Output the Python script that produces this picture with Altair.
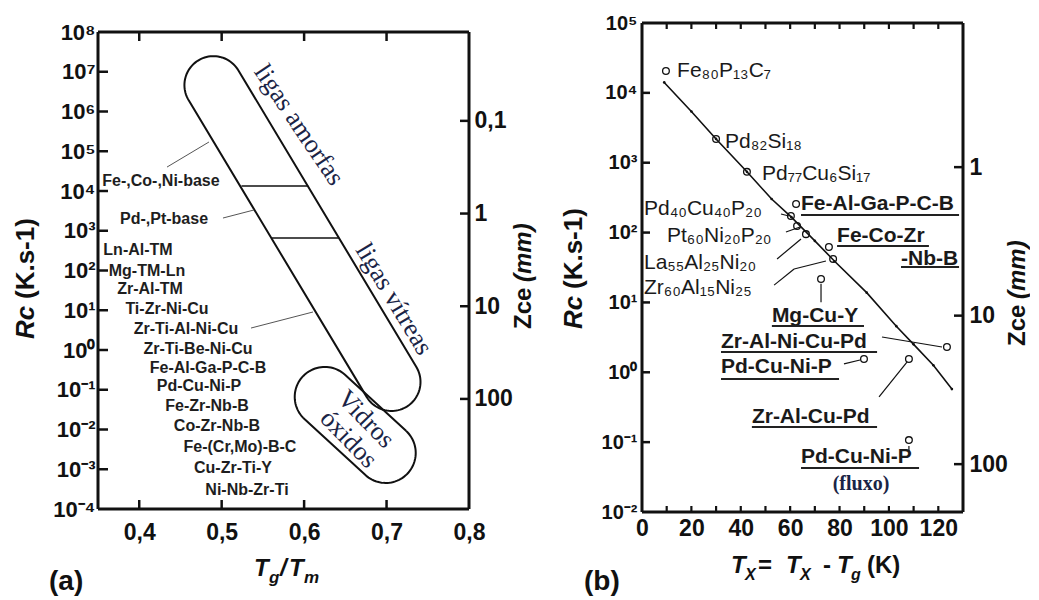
import math
import numpy as np
import pandas as pd
import altair as alt

FONT = "Liberation Sans"
SERIF = "Liberation Serif"
INK = "#111111"
NAVY = "#1a2446"

# ================= Panel (a) data =================
a_x_domain = [0.35, 0.80]
a_rc_domain = [1e-4, 1e8]
a_x_ticks = [0.4, 0.5, 0.6, 0.7, 0.8]
a_rc_ticks = [1e-4, 1e-3, 1e-2, 1e-1, 1e0, 1e1, 1e2, 1e3, 1e4, 1e5, 1e6, 1e7, 1e8]
a_rc_tick_labels = ["10⁻⁴", "10⁻³", "10⁻²", "10⁻¹", "10⁰", "10¹", "10²",
                    "10³", "10⁴", "10⁵", "10⁶", "10⁷", "10⁸"]
a_zce_domain = [0.011, 1540]
a_zce_ticks = [0.1, 1, 10, 100]
a_zce_tick_labels = ["0,1", "1", "10", "100"]

a_alloys = ["Fe-,Co-,Ni-base", "Pd-,Pt-base", "Ln-Al-TM", "Mg-TM-Ln", "Zr-Al-TM",
            "Ti-Zr-Ni-Cu", "Zr-Ti-Al-Ni-Cu", "Zr-Ti-Be-Ni-Cu", "Fe-Al-Ga-P-C-B",
            "Pd-Cu-Ni-P", "Fe-Zr-Nb-B", "Co-Zr-Nb-B", "Fe-(Cr,Mo)-B-C",
            "Cu-Zr-Ti-Y", "Ni-Nb-Zr-Ti"]
a_alloy_x = [0.4264, 0.4301, 0.3985, 0.4094, 0.4131, 0.4337, 0.4567, 0.4713,
             0.4834, 0.4725, 0.4822, 0.4943, 0.5222, 0.5137, 0.5307]
a_alloy_rc = [1.79e4, 1.98e3, 328, 97, 34.3, 10.7, 3.37, 1.06, 0.352, 0.124,
              0.039, 0.0122, 0.00363, 0.00107, 0.0003]

# region outlines (capsules): end-centre positions in data units
a_region_names = ["ligas", "vidros"]
a_region_x1 = [0.490, 0.625]
a_region_rc1 = [4.6e6, 0.066]
a_region_x2 = [0.706, 0.699]
a_region_rc2 = [0.157, 0.00257]

# dividers inside the glass-forming band
a_div_x1 = [0.524, 0.561]
a_div_x2 = [0.605, 0.642]
a_div_rc = [1.34e4, 658]

# leader lines
a_lead_x1 = [0.4337, 0.5016, 0.5356]
a_lead_rc1 = [4.0e4, 2.09e3, 3.57]
a_lead_x2 = [0.4846, 0.5392, 0.6108]
a_lead_rc2 = [1.71e5, 3.33e3, 9.04]

# region captions
a_cap_text = ["ligas amorfas", "ligas vítreas", "Vidros", "óxidos"]
a_cap_x = [0.594, 0.709, 0.675, 0.654]
a_cap_rc = [4.57e5, 19.1, 0.0182, 0.00575]
a_cap_angle = [56, 59, 46, 46]

# ================= Panel (b) data =================
b_x_domain = [0, 130]
b_rc_domain = [1e-2, 1e5]
b_x_label_ticks = [0, 20, 40, 60, 80, 100, 120]
b_x_minor_ticks = [10, 20, 30, 40, 50, 60, 70, 80, 90, 100, 110, 120]
b_rc_ticks = [1e-2, 1e-1, 1e0, 1e1, 1e2, 1e3, 1e4, 1e5]
b_rc_tick_labels = ["10⁻²", "10⁻¹", "10⁰", "10¹", "10²", "10³", "10⁴", "10⁵"]
b_zce_domain = [0.107, 210]
b_zce_ticks = [1, 10, 100]
b_zce_tick_labels = ["1", "10", "100"]

b_fit_x = [9, 20, 30, 42.5, 52.5, 60.5, 70, 78, 91, 103, 110, 118, 125.5]
b_fit_rc = [1.41e4, 5.4e3, 2.19e3, 741, 302, 166, 76, 38.9, 13.8, 4.57, 2.51, 1.26, 0.575]

b_pt_x = [9.7, 30.0, 42.5, 62.4, 60.3, 62.8, 66.4, 75.7, 77.4, 72.5, 123.5, 89.9, 108.1, 108.1]
b_pt_rc = [2.06e4, 2.18e3, 740, 256, 173, 124, 95, 62, 42, 21.6, 2.3, 1.55, 1.55, 0.107]

b_formula = ["Fe₈₀P₁₃C₇", "Pd₈₂Si₁₈", "Pd₇₇Cu₆Si₁₇", "Pd₄₀Cu₄₀P₂₀",
             "Pt₆₀Ni₂₀P₂₀", "La₅₅Al₂₅Ni₂₀", "Zr₆₀Al₁₅Ni₂₅"]
b_formula_x = [14.2, 33.6, 48.6, 0.8, 10.1, 0.8, 0.8]
b_formula_rc = [2.06e4, 1.98e3, 689, 217, 89.3, 36.6, 16.1]

b_system = ["Fe-Al-Ga-P-C-B", "Fe-Co-Zr", "-Nb-B", "Mg-Cu-Y", "Zr-Al-Ni-Cu-Pd",
            "Pd-Cu-Ni-P", "Zr-Al-Cu-Pd", "Pd-Cu-Ni-P"]
b_system_x = [64.4, 79.0, 104.9, 52.6, 32.0, 32.0, 44.5, 64.4]
b_system_rc = [256, 89.3, 41.9, 6.40, 2.72, 1.19, 0.229, 0.0612]
b_system_ul_rc = [179, 64.3, 32.1, 4.60, 1.95, 0.80, 0.165, 0.0427]
b_system_ul_x2 = [128.4, 116.2, 128.4, 89.9, 95.2, 79.8, 95.2, 112.2]

b_note = ["(fluxo)"]
b_note_x = [88.7]
b_note_rc = [0.0252]

b_lead_x1 = [56.3, 58.3, 54.7, 53.5, 61.6, 72.5, 97.2, 81.8, 96.0, 108.1]
b_lead_rc1 = [184.5, 101.9, 41.9, 17.7, 30.1, 18.5, 3.20, 1.32, 0.443, 0.088]
b_lead_x2 = [59.5, 64.0, 64.4, 61.6, 74.5, 72.5, 121.5, 88.3, 107.3, 108.1]
b_lead_rc2 = [172.6, 120.2, 80.9, 30.1, 39.2, 10.1, 2.30, 1.50, 1.40, 0.072]

# ================= layout =================
WA, HA = 371, 477          # plot area of panel (a)
TA = 9                     # panel (a) plot area starts this far below panel (b)'s top
VA = HA + TA               # view height of panel (a)
WB, HB = 321, 489
CAP_R = [29, 30]


def capsule(x1, r1, x2, r2, rad, xdom, rdom, W, H, n=48):
    lo, hi = math.log10(rdom[0]), math.log10(rdom[1])

    def px(x, r):
        return np.array([(x - xdom[0]) / (xdom[1] - xdom[0]) * W,
                         (hi - math.log10(r)) / (hi - lo) * H])

    p1, p2 = px(x1, r1), px(x2, r2)
    phi = math.atan2(p2[1] - p1[1], p2[0] - p1[0])
    pts = [p2 + rad * np.array([math.cos(t), math.sin(t)])
           for t in np.linspace(phi - math.pi / 2, phi + math.pi / 2, n)]
    pts += [p1 + rad * np.array([math.cos(t), math.sin(t)])
            for t in np.linspace(phi + math.pi / 2, phi + 3 * math.pi / 2, n)]
    pts.append(pts[0])
    xs = [xdom[0] + p[0] / W * (xdom[1] - xdom[0]) for p in pts]
    rs = [10 ** (hi - p[1] / H * (hi - lo)) for p in pts]
    return xs, rs


def label_array_expr(labels, offset):
    return "[" + ",".join("'" + s + "'" for s in labels) + "][round(log(datum.value)/LN10)+" + str(offset) + "]"


def piece(text, x, y, size, weight="bold", style="normal", angle=0, align="left",
          baseline="alphabetic", font=FONT, color=INK):
    return alt.Chart(pd.DataFrame({"k": [0]})).mark_text(
        text=text, fontSize=size, fontWeight=weight, fontStyle=style, angle=angle,
        align=align, baseline=baseline, font=font, color=color
    ).encode(x=alt.value(x), y=alt.value(y))


def frame(W, y0, y1):
    one = pd.DataFrame({"k": [0]})
    return [
        alt.Chart(one).mark_rule(color=INK, strokeWidth=3).encode(
            x=alt.value(0), x2=alt.value(W), y=alt.value(y0)),
        alt.Chart(one).mark_rule(color=INK, strokeWidth=3).encode(
            x=alt.value(0), x2=alt.value(W), y=alt.value(y1)),
        alt.Chart(one).mark_rule(color=INK, strokeWidth=3).encode(
            x=alt.value(0), y=alt.value(y0), y2=alt.value(y1)),
        alt.Chart(one).mark_rule(color=INK, strokeWidth=3).encode(
            x=alt.value(W), y=alt.value(y0), y2=alt.value(y1)),
    ]


# ---------------- panel (a) encodings ----------------
a_xaxis = alt.Axis(values=a_x_ticks, labelExpr="replace(format(datum.value, '.1f'), '.', ',')",
                   ticks=False, tickSize=0, domain=False, grid=False, title=None,
                   labelFontSize=23, labelFontWeight="bold", labelFont=FONT, labelColor=INK,
                   labelPadding=12, labelFlush=False, labelOverlap=False)
a_yaxis = alt.Axis(values=a_rc_ticks, labelExpr=label_array_expr(a_rc_tick_labels, 4),
                   ticks=False, tickSize=0, domain=False, grid=False, title=None,
                   labelFontSize=22, labelFontWeight="bold", labelFont=FONT, labelColor=INK,
                   labelPadding=3, labelFlush=False, labelOverlap=False)
a_xs = alt.Scale(domain=a_x_domain, nice=False, zero=False)
a_ys = alt.Scale(type="log", domain=a_rc_domain, nice=False, range=[VA, TA])


def ax(f="x"):
    return alt.X(f + ":Q", scale=a_xs, axis=a_xaxis)


def ay(f="rc"):
    return alt.Y(f + ":Q", scale=a_ys, axis=a_yaxis)


rows = []
for i, nm in enumerate(a_region_names):
    xs, rs = capsule(a_region_x1[i], a_region_rc1[i], a_region_x2[i], a_region_rc2[i],
                     CAP_R[i], a_x_domain, a_rc_domain, WA, HA)
    for j, (xv, rv) in enumerate(zip(xs, rs)):
        rows.append({"shape": nm, "i": j, "x": xv, "rc": rv})
shape_df = pd.DataFrame(rows)

a_shapes = alt.Chart(shape_df).mark_line(color=INK, strokeWidth=2).encode(
    x=ax(), y=ay(), detail="shape:N", order="i:Q")

a_div = alt.Chart(pd.DataFrame({"x": a_div_x1, "x2": a_div_x2, "rc": a_div_rc})).mark_rule(
    color=INK, strokeWidth=1.6).encode(x=ax(), x2="x2:Q", y=ay())

a_lead = alt.Chart(pd.DataFrame({"x": a_lead_x1, "x2": a_lead_x2, "rc": a_lead_rc1,
                                 "rc2": a_lead_rc2})).mark_rule(
    color="#555555", strokeWidth=1).encode(x=ax(), x2="x2:Q", y=ay(), y2="rc2:Q")

a_text = alt.Chart(pd.DataFrame({"x": a_alloy_x, "rc": a_alloy_rc, "name": a_alloys})).mark_text(
    font=FONT, fontSize=16, fontWeight="bold", color="#1e1e1e", align="center", baseline="middle"
).encode(x=ax(), y=ay(), text="name:N")

a_caps = []
for t, xv, rv, ang in zip(a_cap_text, a_cap_x, a_cap_rc, a_cap_angle):
    a_caps.append(alt.Chart(pd.DataFrame({"x": [xv], "rc": [rv], "t": [t]})).mark_text(
        font=SERIF, fontSize=26, color=NAVY, angle=ang, align="center", baseline="middle"
    ).encode(x=ax(), y=ay(), text="t:N"))

a_ytick = alt.Chart(pd.DataFrame({"rc": a_rc_ticks[1:-1]})).mark_rule(color=INK, strokeWidth=2.5).encode(
    y=ay(), x=alt.value(0), x2=alt.value(10))
a_xtick_b = alt.Chart(pd.DataFrame({"x": a_x_ticks[:-1]})).mark_rule(color=INK, strokeWidth=2.5).encode(
    x=ax(), y=alt.value(VA), y2=alt.value(VA - 9))
a_xtick_t = alt.Chart(pd.DataFrame({"x": a_x_ticks[:-1]})).mark_rule(color=INK, strokeWidth=2.5).encode(
    x=ax(), y=alt.value(TA), y2=alt.value(TA + 9))

a_titles = [
    piece("(a)", -49, TA + 558, 28),
    piece("Rc", -72, TA + 307, 26, style="italic", angle=270, baseline="middle"),
    piece("(K.s-1)", -72, TA + 267, 26, angle=270, baseline="middle"),
    piece("Zce", 426, TA + 297, 24, angle=270, baseline="middle"),
    piece("(mm)", 426, TA + 250, 24, style="italic", angle=270, baseline="middle"),
    piece("T", 156, TA + 544, 24, style="italic"),
    piece("g", 171, TA + 551, 17, style="italic"),
    piece("/", 182, TA + 544, 24, style="italic"),
    piece("T", 191, TA + 544, 24, style="italic"),
    piece("m", 206, TA + 551, 17, style="italic"),
]

a_zce = alt.Chart(pd.DataFrame({"z": a_zce_ticks})).mark_rule(color=INK, strokeWidth=2.5).encode(
    y=alt.Y("z:Q", scale=alt.Scale(type="log", domain=a_zce_domain, nice=False, range=[TA, VA]),
            axis=alt.Axis(orient="right", values=a_zce_ticks,
                          labelExpr=label_array_expr(a_zce_tick_labels, 1),
                          ticks=False, tickSize=0, domain=False, grid=False, title=None,
                          labelFontSize=23, labelFontWeight="bold", labelFont=FONT,
                          labelColor=INK, labelPadding=5, labelFlush=False, labelOverlap=False)),
    x=alt.value(WA - 9), x2=alt.value(WA))

panel_a = alt.layer(
    alt.layer(a_shapes, a_div, a_lead, a_text, *a_caps, a_ytick, a_xtick_b, a_xtick_t,
              *frame(WA, TA, VA), *a_titles),
    a_zce
).resolve_scale(y="independent").properties(width=WA, height=VA)

# ---------------- panel (b) encodings ----------------
b_xaxis = alt.Axis(values=b_x_label_ticks, format="d",
                   ticks=False, tickSize=0, domain=False, grid=False, title=None,
                   labelFontSize=23, labelFontWeight="bold", labelFont=FONT, labelColor=INK,
                   labelPadding=5, labelFlush=False, labelOverlap=False)
b_yaxis = alt.Axis(values=b_rc_ticks, labelExpr=label_array_expr(b_rc_tick_labels, 2),
                   ticks=False, tickSize=0, domain=False, grid=False, title=None,
                   labelFontSize=20, labelFontWeight="bold", labelFont=FONT, labelColor=INK,
                   labelPadding=5, labelFlush=False, labelOverlap=False)
b_xs = alt.Scale(domain=b_x_domain, nice=False, zero=False)
b_ys = alt.Scale(type="log", domain=b_rc_domain, nice=False)


def bx(f="x"):
    return alt.X(f + ":Q", scale=b_xs, axis=b_xaxis)


def by(f="rc"):
    return alt.Y(f + ":Q", scale=b_ys, axis=b_yaxis)


b_fit_df = pd.DataFrame({"x": b_fit_x, "rc": b_fit_rc})
b_line = alt.Chart(b_fit_df).mark_line(color=INK, strokeWidth=1.6).encode(x=bx(), y=by())
b_dots = alt.Chart(b_fit_df).mark_point(filled=True, color=INK, size=7, opacity=1).encode(x=bx(), y=by())

b_pts = alt.Chart(pd.DataFrame({"x": b_pt_x, "rc": b_pt_rc})).mark_point(
    shape="circle", filled=False, color=INK, size=45, strokeWidth=1.3, opacity=1
).encode(x=bx(), y=by())

b_lead = alt.Chart(pd.DataFrame({"x": b_lead_x1, "x2": b_lead_x2, "rc": b_lead_rc1,
                                 "rc2": b_lead_rc2})).mark_rule(
    color=INK, strokeWidth=1.2).encode(x=bx(), x2="x2:Q", y=by(), y2="rc2:Q")

b_form = alt.Chart(pd.DataFrame({"x": b_formula_x, "rc": b_formula_rc, "t": b_formula})).mark_text(
    font=FONT, fontSize=21, color="#1a1a1a", align="left", baseline="middle"
).encode(x=bx(), y=by(), text="t:N")

b_sys = alt.Chart(pd.DataFrame({"x": b_system_x, "rc": b_system_rc, "t": b_system})).mark_text(
    font=FONT, fontSize=21, fontWeight="bold", color="#1a1a1a", align="left", baseline="middle"
).encode(x=bx(), y=by(), text="t:N")

b_ul = alt.Chart(pd.DataFrame({"x": b_system_x, "x2": b_system_ul_x2, "rc": b_system_ul_rc})).mark_rule(
    color="#222222", strokeWidth=2).encode(x=bx(), x2="x2:Q", y=by())

b_nt = alt.Chart(pd.DataFrame({"x": b_note_x, "rc": b_note_rc, "t": b_note})).mark_text(
    font=SERIF, fontSize=20, fontWeight="bold", color=NAVY, align="center", baseline="middle"
).encode(x=bx(), y=by(), text="t:N")

b_ytick = alt.Chart(pd.DataFrame({"rc": b_rc_ticks[1:-1]})).mark_rule(color=INK, strokeWidth=2.5).encode(
    y=by(), x=alt.value(0), x2=alt.value(8))
b_xtick_b = alt.Chart(pd.DataFrame({"x": b_x_minor_ticks})).mark_rule(color=INK, strokeWidth=2.2).encode(
    x=bx(), y=alt.value(HB), y2=alt.value(HB - 6))
b_xtick_t = alt.Chart(pd.DataFrame({"x": b_x_minor_ticks})).mark_rule(color=INK, strokeWidth=2.2).encode(
    x=bx(), y=alt.value(0), y2=alt.value(6))

b_titles = [
    piece("(b)", -58, 567, 28),
    piece("Rc", -68, 306, 26, style="italic", angle=270, baseline="middle"),
    piece("(K.s-1)", -68, 266, 26, angle=270, baseline="middle"),
    piece("Zce", 376, 323, 24, angle=270, baseline="middle"),
    piece("(mm)", 376, 276, 24, style="italic", angle=270, baseline="middle"),
    piece("T", 89, 550, 24, style="italic"),
    piece("X", 103, 557, 16, style="italic"),
    piece("=", 116, 550, 24),
    piece("T", 144, 550, 24, style="italic"),
    piece("X", 158, 557, 16, style="italic"),
    piece("-", 181, 550, 24),
    piece("T", 195, 550, 24, style="italic"),
    piece("g", 209, 557, 16, style="italic"),
    piece("(K)", 225, 550, 24),
]

b_zce = alt.Chart(pd.DataFrame({"z": b_zce_ticks})).mark_rule(color=INK, strokeWidth=2.5).encode(
    y=alt.Y("z:Q", scale=alt.Scale(type="log", domain=b_zce_domain, reverse=True, nice=False),
            axis=alt.Axis(orient="right", values=b_zce_ticks,
                          labelExpr=label_array_expr(b_zce_tick_labels, 0),
                          ticks=False, tickSize=0, domain=False, grid=False, title=None,
                          labelFontSize=23, labelFontWeight="bold", labelFont=FONT,
                          labelColor=INK, labelPadding=6, labelFlush=False, labelOverlap=False)),
    x=alt.value(WB - 9), x2=alt.value(WB))

panel_b = alt.layer(
    alt.layer(b_line, b_dots, b_pts, b_lead, b_form, b_sys, b_ul, b_nt,
              b_ytick, b_xtick_b, b_xtick_t, *frame(WB, 0, HB), *b_titles),
    b_zce
).resolve_scale(y="independent").properties(width=WB, height=HB)

chart = alt.hconcat(panel_a, panel_b, spacing=25).properties(
    padding={"left": 5, "top": 5, "right": 0, "bottom": 0}
).configure(background="white").configure_view(stroke=None)

chart.save("out.html", embed_options={"renderer": "svg", "actions": False})
